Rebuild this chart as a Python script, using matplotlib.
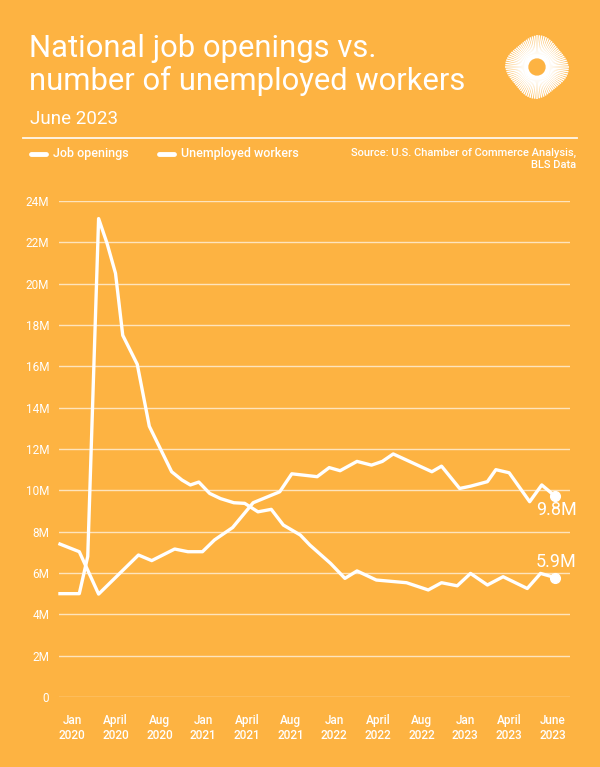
import numpy as np
import matplotlib
matplotlib.use("Agg")
import matplotlib.pyplot as plt
from matplotlib.lines import Line2D

plt.rcParams['font.family'] = ['Roboto', 'DejaVu Sans']

bg = '#FDB342'

# months since Jan 2020 (read from vertex positions)
open_month = [0, 1.6, 3.2, 6.5, 7.6, 9.5, 10.6, 11.8, 12.8, 14.3, 16.0, 18.2, 19.2, 21.3,
              22.3, 23.2, 24.6, 25.8, 26.7, 27.6, 30.8, 31.6, 33.1, 34.0, 35.4, 36.1,
              37.2, 38.9, 39.9, 41.0]
open_val = [7.4, 7.03, 4.98, 6.87, 6.6, 7.16, 7.03, 7.03, 7.6, 8.2, 9.4, 9.93, 10.8, 10.66,
            11.1, 10.95, 11.4, 11.22, 11.4, 11.76, 10.9, 11.17, 10.09, 10.2, 10.42, 11.0,
            10.85, 9.45, 10.26, 9.72]

unemp_month = [0, 1.6, 2.3, 3.2, 3.9, 4.6, 5.2, 6.4, 7.4, 9.25, 10.1, 10.8, 11.5, 12.4,
               13.3, 14.4, 15.3, 16.4, 17.5, 18.5, 19.2, 19.9, 20.7, 22.4, 23.6, 24.6,
               26.2, 28.7, 30.5, 31.6, 32.9, 34.0, 35.4, 36.7, 38.7, 39.8, 41.0]
unemp_val = [5.0, 5.0, 6.8, 23.15, 21.95, 20.5, 17.5, 16.1, 13.1, 10.9, 10.5, 10.26, 10.4,
             9.85, 9.6, 9.4, 9.37, 8.96, 9.08, 8.32, 8.08, 7.84, 7.35, 6.47, 5.74, 6.1,
             5.66, 5.53, 5.18, 5.53, 5.38, 5.98, 5.42, 5.82, 5.25, 5.98, 5.78]

tick_labels = ["Jan\n2020", "April\n2020", "Aug\n2020", "Jan\n2021", "April\n2021", "Aug\n2021",
               "Jan\n2022", "April\n2022", "Aug\n2022", "Jan\n2023", "April\n2023", "June\n2023"]
y_ticks = [0, 2, 4, 6, 8, 10, 12, 14, 16, 18, 20, 22, 24]
y_labels = ["0"] + [f"{v}M" for v in y_ticks[1:]]

end_labels = ["9.8M", "5.9M"]

fig = plt.figure(figsize=(6.0, 7.67), dpi=100)
fig.patch.set_facecolor(bg)

ax = fig.add_axes([59/600, 1-697/767, 511/600, 496/767])
ax.set_facecolor(bg)
for s in ax.spines.values():
    s.set_visible(False)

ax.set_ylim(0, 24)
ax.set_xlim(-0.08, 42.24)
ax.set_yticks(y_ticks)
ax.set_yticklabels(y_labels)
ax.grid(axis='y', color='white', alpha=0.65, lw=1)
ax.set_axisbelow(True)
ax.tick_params(axis='y', length=0, pad=7, labelsize=8.5, labelcolor='white')
ax.set_xticks(np.linspace(1.0, 40.8, 12))
ax.set_xticklabels(tick_labels, fontweight='medium', linespacing=1.25)
ax.tick_params(axis='x', length=0, pad=12, labelsize=8.5, labelcolor='white')

ax.plot(open_month, open_val, color='white', lw=2.4, solid_joinstyle='round', clip_on=False)
ax.plot(unemp_month, unemp_val, color='white', lw=2.4, solid_joinstyle='round', clip_on=False)
ax.plot([open_month[-1]], [open_val[-1]], 'o', color='white', ms=7, clip_on=False)
ax.plot([unemp_month[-1]], [unemp_val[-1]], 'o', color='white', ms=7, clip_on=False)
ax.text(open_month[-1] + 0.1, open_val[-1] - 0.65, end_labels[0], color='white', fontsize=13,
        ha='center', va='center')
ax.text(unemp_month[-1] + 0.1, unemp_val[-1] + 0.75, end_labels[1], color='white', fontsize=13,
        ha='center', va='center')

# header
fig.text(29/600, 1-57/767, "National job openings vs.", color='white', fontsize=22.3,
         va='baseline')
fig.text(29/600, 1-90/767, "number of unemployed workers", color='white', fontsize=22.3,
         va='baseline')
fig.text(30/600, 1-124/767, "June 2023", color='white', fontsize=13.5, va='baseline')
fig.add_artist(Line2D([23/600, 577/600], [1-138/767, 1-138/767], color='white', lw=1.3, alpha=0.9))

# legend
ly = 1-154/767
fig.add_artist(Line2D([31/600, 46/600], [ly, ly], color='white', lw=3.5, solid_capstyle='round'))
fig.text(53/600, ly, "Job openings", color='white', fontsize=9, fontweight='medium', va='center')
fig.add_artist(Line2D([159/600, 174/600], [ly, ly], color='white', lw=3.5, solid_capstyle='round'))
fig.text(181/600, ly, "Unemployed workers", color='white', fontsize=9, fontweight='medium', va='center')
fig.text(576/600, 1-148/767, "Source: U.S. Chamber of Commerce Analysis,\nBLS Data", color='white',
         fontsize=8, fontweight='medium', ha='right', va='top', linespacing=1.3)

# logo
lax = fig.add_axes([502/600, 1-102/767, 70/600, 70/767])
lax.set_xlim(-1.1, 1.1)
lax.set_ylim(-1.1, 1.1)
lax.set_aspect('equal')
lax.axis('off')
ang = np.linspace(0, 2*np.pi, 84, endpoint=False)
for a in ang:
    r_out = 0.94 + 0.06*np.cos(4*a + 0.4)
    lax.plot([0.3*np.cos(a), r_out*np.cos(a)], [0.3*np.sin(a), r_out*np.sin(a)],
             color='white', lw=1.1, solid_capstyle='butt')
lax.add_patch(plt.Circle((0, 0), 0.38, color='white'))
lax.add_patch(plt.Circle((0, 0), 0.25, color=bg))

fig.savefig("out.png", dpi=100, facecolor=bg)
